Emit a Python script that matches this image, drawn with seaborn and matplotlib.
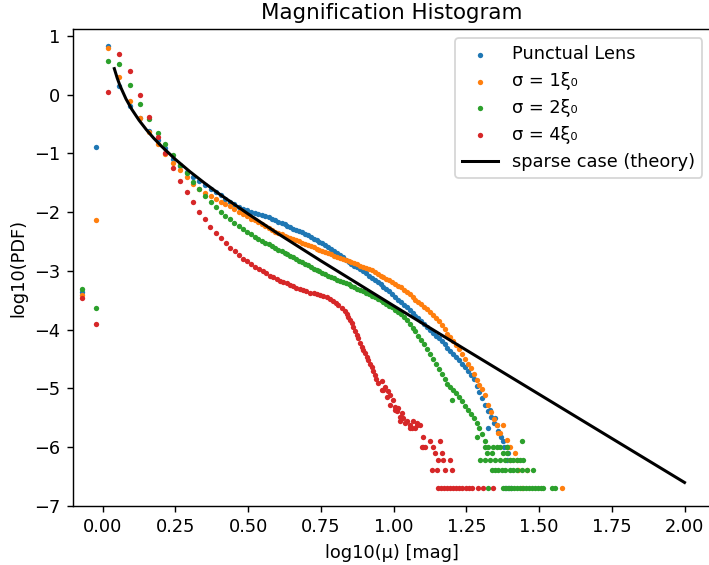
import matplotlib
matplotlib.use("Agg")
import matplotlib.pyplot as plt
import seaborn as sns
import pandas as pd

# ---------------- data ----------------
series_labels = ["Punctual Lens", "σ = 1ξ₀", "σ = 2ξ₀", "σ = 4ξ₀"]
series_colors = ["#1f77b4", "#ff7f0e", "#2ca02c", "#d62728"]
theory_label = "sparse case (theory)"

punct_x = [-0.072, -0.024, 0.019, 0.057, 0.094, 0.128, 0.160, 0.189, 0.215, 0.241, 0.266, 0.289,
           0.311, 0.332, 0.352, 0.371, 0.389, 0.406, 0.422, 0.438, 0.453, 0.468, 0.482, 0.496,
           0.509, 0.522, 0.535, 0.547, 0.559, 0.571, 0.582, 0.593, 0.604, 0.615, 0.625, 0.635,
           0.645, 0.655, 0.665, 0.675, 0.685, 0.695, 0.705, 0.715, 0.725, 0.735, 0.745, 0.755,
           0.765, 0.775, 0.785, 0.795, 0.805, 0.815, 0.825, 0.835, 0.845, 0.855, 0.865, 0.875,
           0.885, 0.895, 0.905, 0.915, 0.925, 0.935, 0.945, 0.955, 0.965, 0.975, 0.985, 0.995,
           1.005, 1.015, 1.025, 1.035, 1.045, 1.055, 1.065, 1.075, 1.085, 1.095, 1.105, 1.115,
           1.125, 1.135, 1.145, 1.155, 1.165, 1.175, 1.185, 1.195, 1.205, 1.215, 1.225, 1.235,
           1.245, 1.255, 1.265, 1.275, 1.285, 1.295, 1.305, 1.315, 1.325, 1.335, 1.345,
           1.331, 1.349, 1.326, 1.355, 1.360, 1.370, 1.375, 1.380, 1.389, 1.394, 1.389,
           1.383, 1.392, 1.404]
punct_y = [-3.36, -0.90, 0.825, 0.15, -0.196, -0.40, -0.615, -0.774, -0.915, -1.10, -1.21, -1.31,
           -1.40, -1.47, -1.54, -1.60, -1.66, -1.71, -1.77, -1.82, -1.87, -1.91, -1.94, -1.97,
           -1.99, -2.01, -2.03, -2.05, -2.07, -2.09, -2.12, -2.14, -2.16, -2.19, -2.21, -2.23,
           -2.25, -2.28, -2.30, -2.32, -2.34, -2.37, -2.39, -2.42, -2.45, -2.48, -2.51, -2.53,
           -2.56, -2.60, -2.63, -2.66, -2.70, -2.73, -2.77, -2.81, -2.85, -2.88, -2.91, -2.94,
           -2.97, -3.00, -3.04, -3.08, -3.12, -3.15, -3.19, -3.23, -3.27, -3.31, -3.35, -3.40,
           -3.44, -3.49, -3.53, -3.58, -3.62, -3.67, -3.71, -3.76, -3.81, -3.86, -3.90, -3.95,
           -4.00, -4.05, -4.10, -4.15, -4.20, -4.25, -4.31, -4.36, -4.42, -4.47, -4.52, -4.58,
           -4.64, -4.70, -4.77, -4.84, -4.95, -5.06, -5.16, -5.28, -5.38, -5.48, -5.58,
           -5.37, -5.51, -5.68, -5.62, -5.72, -5.82, -5.90, -6.00, -5.99, -6.10, -6.22,
           -6.70, -6.70, -6.70]

s1_x = [-0.072, -0.024, 0.019, 0.057, 0.094, 0.128, 0.160, 0.189, 0.215, 0.241, 0.266, 0.289,
        0.311, 0.332, 0.352, 0.371, 0.389, 0.406, 0.422, 0.438, 0.453, 0.468, 0.482, 0.496,
        0.509, 0.522, 0.535, 0.547, 0.559, 0.571, 0.582, 0.593, 0.604, 0.615, 0.625, 0.635,
        0.645, 0.655, 0.665, 0.675, 0.685, 0.695, 0.705, 0.715, 0.725, 0.735, 0.745, 0.755,
        0.765, 0.775, 0.785, 0.795, 0.805, 0.815, 0.825, 0.835, 0.845, 0.855, 0.865, 0.875,
        0.885, 0.895, 0.905, 0.915, 0.925, 0.935, 0.945, 0.955, 0.965, 0.975, 0.985, 0.995,
        1.005, 1.015, 1.025, 1.035, 1.045, 1.055, 1.065, 1.075, 1.085, 1.095, 1.105, 1.115,
        1.125, 1.135, 1.145, 1.155, 1.165, 1.175, 1.185, 1.195, 1.205, 1.215, 1.225, 1.235,
        1.245, 1.255, 1.265, 1.275, 1.285, 1.295, 1.305, 1.315, 1.325, 1.335, 1.345, 1.355,
        1.365, 1.377, 1.360, 1.389, 1.394, 1.400, 1.417, 1.423, 1.400, 1.429, 1.457,
        1.442, 1.578]
s1_y = [-3.41, -2.14, 0.786, 0.292, -0.105, -0.405, -0.632, -0.847, -1.01, -1.16, -1.28, -1.40,
        -1.52, -1.61, -1.68, -1.73, -1.78, -1.82, -1.86, -1.90, -1.95, -1.99, -2.03, -2.07,
        -2.11, -2.14, -2.17, -2.20, -2.24, -2.27, -2.30, -2.33, -2.36, -2.38, -2.40, -2.42,
        -2.44, -2.46, -2.48, -2.50, -2.52, -2.54, -2.56, -2.58, -2.60, -2.62, -2.64, -2.66,
        -2.68, -2.70, -2.72, -2.74, -2.76, -2.78, -2.79, -2.81, -2.83, -2.85, -2.87, -2.89,
        -2.91, -2.93, -2.95, -2.97, -2.99, -3.02, -3.05, -3.08, -3.10, -3.13, -3.16, -3.19,
        -3.22, -3.25, -3.28, -3.32, -3.36, -3.40, -3.45, -3.49, -3.53, -3.57, -3.61, -3.65,
        -3.70, -3.75, -3.80, -3.86, -3.92, -3.99, -4.07, -4.13, -4.19, -4.26, -4.33, -4.42,
        -4.50, -4.58, -4.66, -4.76, -4.85, -4.94, -5.01, -5.12, -5.28, -5.40, -5.52, -5.63,
        -5.75, -5.62, -5.76, -5.88, -5.99, -5.99, -6.10, -6.22, -6.22, -6.39, -6.39,
        -6.70, -6.70]

s2_x = [-0.072, -0.024, 0.019, 0.057, 0.094, 0.128, 0.160, 0.189, 0.215, 0.241, 0.266, 0.289,
        0.311, 0.332, 0.352, 0.371, 0.389, 0.406, 0.422, 0.438, 0.453, 0.468, 0.482, 0.496,
        0.509, 0.522, 0.535, 0.547, 0.559, 0.571, 0.582, 0.593, 0.604, 0.615, 0.625, 0.635,
        0.645, 0.655, 0.665, 0.675, 0.685, 0.695, 0.705, 0.715, 0.725, 0.735, 0.745, 0.755,
        0.765, 0.775, 0.785, 0.795, 0.805, 0.815, 0.825, 0.835, 0.845, 0.855, 0.865, 0.875,
        0.885, 0.895, 0.905, 0.915, 0.925, 0.935, 0.945, 0.955, 0.965, 0.975, 0.985, 0.995,
        1.005, 1.015, 1.025, 1.035, 1.045, 1.055, 1.065, 1.075, 1.085, 1.095, 1.105, 1.115,
        1.125, 1.135, 1.145, 1.155, 1.165, 1.175, 1.185, 1.195, 1.205, 1.215, 1.225, 1.235,
        1.245, 1.255, 1.265, 1.275, 1.285, 1.295, 1.305, 1.315,
        1.200, 1.286,
        1.314, 1.326, 1.343, 1.354, 1.366, 1.389, 1.440,
        1.320, 1.337, 1.377, 1.389,
        1.297, 1.314, 1.331, 1.349, 1.366, 1.383, 1.400, 1.412, 1.423, 1.435, 1.446,
        1.337, 1.349, 1.360, 1.372, 1.383, 1.400, 1.412, 1.423, 1.440, 1.457, 1.480,
        1.326, 1.375, 1.385, 1.395, 1.405, 1.415, 1.425, 1.435, 1.445, 1.455, 1.465, 1.475,
        1.485, 1.495, 1.505, 1.515, 1.544, 1.556]
s2_y = [-3.31, -3.63, 0.57, 0.519, 0.156, -0.156, -0.417, -0.65, -0.847, -1.03, -1.20, -1.34,
        -1.48, -1.61, -1.72, -1.82, -1.91, -1.99, -2.06, -2.12, -2.18, -2.24, -2.29, -2.34,
        -2.38, -2.42, -2.45, -2.49, -2.52, -2.55, -2.58, -2.61, -2.64, -2.67, -2.69, -2.72,
        -2.74, -2.77, -2.80, -2.83, -2.85, -2.88, -2.90, -2.93, -2.96, -2.98, -3.01, -3.03,
        -3.06, -3.08, -3.10, -3.12, -3.15, -3.17, -3.19, -3.21, -3.23, -3.26, -3.28, -3.30,
        -3.33, -3.35, -3.37, -3.39, -3.42, -3.45, -3.47, -3.50, -3.53, -3.56, -3.59, -3.62,
        -3.66, -3.70, -3.74, -3.78, -3.84, -3.90, -3.97, -4.03, -4.10, -4.17, -4.25, -4.33,
        -4.42, -4.50, -4.58, -4.67, -4.76, -4.84, -4.92, -4.98, -5.03, -5.08, -5.15, -5.22,
        -5.30, -5.37, -5.44, -5.51, -5.58, -5.68, -5.78, -5.90,
        -5.20, -5.82,
        -5.99, -5.99, -5.99, -5.99, -5.99, -5.99, -5.90,
        -6.09, -6.09, -6.09, -6.09,
        -6.21, -6.21, -6.21, -6.21, -6.21, -6.21, -6.21, -6.21, -6.21, -6.21, -6.21,
        -6.39, -6.39, -6.39, -6.39, -6.39, -6.39, -6.39, -6.39, -6.39, -6.39, -6.39,
        -6.70, -6.70, -6.70, -6.70, -6.70, -6.70, -6.70, -6.70, -6.70, -6.70, -6.70, -6.70,
        -6.70, -6.70, -6.70, -6.70, -6.70, -6.70]

s4_x = [-0.072, -0.024, 0.019, 0.057, 0.094, 0.128, 0.160, 0.189, 0.215, 0.243, 0.266, 0.289,
        0.309, 0.331, 0.351, 0.369, 0.388, 0.407, 0.423, 0.438, 0.454, 0.468, 0.482, 0.496,
        0.510, 0.524, 0.537, 0.550, 0.562, 0.575, 0.587, 0.598, 0.609, 0.620, 0.632, 0.644,
        0.655, 0.666, 0.678, 0.689, 0.700, 0.713, 0.725, 0.736, 0.747, 0.758, 0.770, 0.781,
        0.791, 0.801, 0.810, 0.822, 0.833, 0.839, 0.844, 0.850, 0.856, 0.862, 0.867, 0.873,
        0.879, 0.885, 0.890, 0.896, 0.902, 0.908, 0.913, 0.919, 0.925, 0.930, 0.936, 0.941,
        0.947, 0.959, 0.976, 0.988, 1.005, 1.022, 1.039, 1.056, 1.079, 1.102,
        0.959, 0.970, 0.965, 0.982, 0.988, 0.999, 1.005, 1.016, 1.011, 1.028, 1.033, 1.022,
        1.045, 1.056, 1.067, 1.074, 1.079, 1.091, 1.062, 1.102, 1.097, 1.108, 1.125, 1.137,
        1.160, 1.142, 1.165, 1.154, 1.171, 1.194, 1.131, 1.148, 1.177, 1.200,
        1.154, 1.164, 1.174, 1.184, 1.194, 1.204, 1.214, 1.224, 1.236, 1.248, 1.258, 1.268,
        1.291, 1.308, 1.343]
s4_y = [-3.46, -3.90, 0.048, 0.684, 0.40, -0.014, -0.39, -0.728, -1.00, -1.245, -1.466, -1.664,
        -1.834, -1.993, -2.123, -2.248, -2.35, -2.446, -2.531, -2.605, -2.667, -2.735, -2.79, -2.84,
        -2.88, -2.93, -2.96, -3.00, -3.04, -3.08, -3.11, -3.14, -3.166, -3.19, -3.21, -3.24,
        -3.26, -3.29, -3.31, -3.33, -3.35, -3.37, -3.38, -3.39, -3.41, -3.43, -3.45, -3.48,
        -3.51, -3.55, -3.58, -3.63, -3.68, -3.73, -3.78, -3.83, -3.89, -3.96, -4.03, -4.09,
        -4.15, -4.22, -4.29, -4.35, -4.40, -4.46, -4.52, -4.58, -4.63, -4.70, -4.77, -4.84,
        -4.91, -5.03, -5.14, -5.28, -5.37, -5.48, -5.59, -5.68, -5.62, -5.99,
        -4.88, -4.97, -5.03, -5.05, -5.11, -5.20, -5.31, -5.34, -5.39, -5.42, -5.51, -5.56,
        -5.56, -5.62, -5.56, -5.68, -5.59, -5.62, -5.68, -5.82, -5.99, -5.99, -5.90, -5.99,
        -5.90, -6.10, -6.10, -6.22, -6.22, -6.22, -6.39, -6.39, -6.39, -6.39,
        -6.70, -6.70, -6.70, -6.70, -6.70, -6.70, -6.70, -6.70, -6.70, -6.70, -6.70, -6.70,
        -6.70, -6.70, -6.70]

theory_x = [0.04, 0.05, 0.06, 0.08, 0.10, 0.125, 0.15, 0.175, 0.20, 0.25, 0.30, 0.35,
            0.40, 0.50, 0.60, 0.75, 1.00, 1.25, 1.50, 1.75, 2.00]
theory_y = [0.441, 0.280, 0.146, -0.073, -0.251, -0.437, -0.597, -0.740, -0.869, -1.103,
            -1.312, -1.505, -1.688, -2.031, -2.358, -2.829, -3.593, -4.348, -5.099, -5.850, -6.600]

x_ticks = [0.00, 0.25, 0.50, 0.75, 1.00, 1.25, 1.50, 1.75, 2.00]
y_ticks = [-7, -6, -5, -4, -3, -2, -1, 0, 1]

# ---------------- figure ----------------
DPI = 128
fig = plt.figure(figsize=(709 / DPI, 565 / DPI), dpi=DPI)
ax = fig.add_axes([73 / 709, 1 - 506 / 565, (711 - 73) / 709, (506 - 29.3) / 565])

all_x = [punct_x, s1_x, s2_x, s4_x]
all_y = [punct_y, s1_y, s2_y, s4_y]
for xs, ys, lab, col in zip(all_x, all_y, series_labels, series_colors):
    df = pd.DataFrame({"x": xs, "y": ys})
    sns.scatterplot(data=df, x="x", y="y", color=col, s=9, linewidth=0,
                    label=lab, ax=ax, legend=False)

th = pd.DataFrame({"x": theory_x, "y": theory_y})
sns.lineplot(data=th, x="x", y="y", color="black", linewidth=1.7, sort=False,
             estimator=None, label=theory_label, ax=ax, legend=False)

ax.set_xlim(-0.102, 2.091)
ax.set_ylim(-7.0, 1.11)
ax.set_xticks(x_ticks)
ax.set_xticklabels([f"{t:.2f}" for t in x_ticks])
ax.set_yticks(y_ticks)
ax.set_xlabel("log10(μ) [mag]")
ax.set_ylabel("log10(PDF)")
ax.set_title("Magnification Histogram")
ax.legend(loc="upper right")

fig.savefig("out.png", dpi=DPI)
